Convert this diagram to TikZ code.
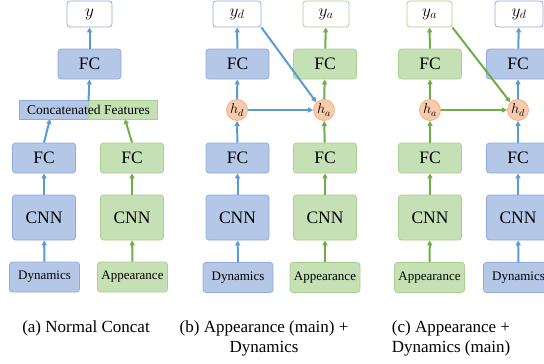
\documentclass[tikz,border=0pt]{standalone}
\usepackage{fontspec}
\setmainfont{Liberation Serif}
\usetikzlibrary{arrows.meta}

\definecolor{fillblue}{HTML}{B4C7E7}
\definecolor{lineblue}{HTML}{8FAADC}
\definecolor{arrblue}{HTML}{5B9BD5}
\definecolor{fillgreen}{HTML}{C5E0B4}
\definecolor{linegreen}{HTML}{A9D18E}
\definecolor{arrgreen}{HTML}{70AD47}
\definecolor{fillorange}{HTML}{F8CBAD}
\definecolor{lineorange}{HTML}{F4B183}

\tikzset{
  box/.style={rounded corners=3pt, line width=0.8pt, inner sep=0pt},
  bluebox/.style={box, draw=lineblue, fill=fillblue},
  greenbox/.style={box, draw=linegreen, fill=fillgreen},
  fcbox/.style={minimum width=63pt, minimum height=30pt, font=\fontsize{17.5}{19}\selectfont},
  cnnbox/.style={minimum width=63pt, minimum height=45pt, font=\fontsize{17.5}{19}\selectfont},
  inbox/.style={minimum width=70pt, minimum height=30pt, font=\fontsize{13}{14}\selectfont},
  outbox/.style={box, fill=white, minimum height=26pt, font=\fontsize{18}{19}\selectfont},
  hid/.style={circle, draw=lineorange, fill=fillorange, line width=0.8pt, minimum size=21pt, inner sep=0pt, font=\fontsize{14}{15}\selectfont},
  barr/.style={-{Triangle[length=5pt,width=5pt]}, arrblue, line width=2pt},
  garr/.style={-{Triangle[length=5pt,width=5pt]}, arrgreen, line width=2pt},
  captext/.style={align=center, font=\fontsize{17}{20}\selectfont}
}

\begin{document}
\begin{tikzpicture}[x=1pt,y=-1pt]

    % page frame
    \useasboundingbox (0,0) rectangle (544,364);
    \clip (0,0) rectangle (544,364);

    % (a) normal concat
    \node[outbox, draw=lineblue, minimum width=45pt] (ya) at (89.5,14) {$y$};
    \node[bluebox, fcbox] (fca) at (89.5,64) {FC};
    \node[minimum width=137pt, minimum height=18pt, inner sep=0pt] (cat) at (88.5,110) {};
    \draw[line width=0.8pt, draw=lineblue, fill=fillblue] (cat.south west) rectangle (cat.north);
    \draw[line width=0.8pt, draw=linegreen, fill=fillgreen] (cat.south) rectangle (cat.north east);
    \node[font=\fontsize{13.5}{14}\selectfont] (cattext) at (cat) {Concatenated Features};
    \coordinate (catd) at (50,119);
    \coordinate (catap) at (125,119);

    \node[bluebox, fcbox] (fcda) at (44,158) {FC};
    \node[greenbox, fcbox] (fcaa) at (132,158) {FC};
    \node[bluebox, cnnbox] (cnnda) at (44,217.5) {CNN};
    \node[greenbox, cnnbox] (cnnaa) at (132,217.5) {CNN};
    \node[bluebox, inbox] (dyna) at (44.5,277) {Dynamics};
    \node[greenbox, inbox] (appa) at (132.5,277) {Appearance};

    \draw[barr] (dyna) -- (cnnda);
    \draw[barr] (cnnda) -- (fcda);
    \draw[barr] (fcda.north) -- (catd);
    \draw[garr] (appa) -- (cnnaa);
    \draw[garr] (cnnaa) -- (fcaa);
    \draw[garr] (fcaa.north) -- (catap);
    \draw[barr] (cat.north) -- (fca.south);
    \draw[barr] (fca) -- (ya);

    % (b) appearance (main) + dynamics
    \node[outbox, draw=lineblue, minimum width=48pt] (ydb) at (237,14) {$y_d$};
    \node[outbox, draw=linegreen, minimum width=46pt] (yab) at (326,14) {$y_a$};
    \node[bluebox, fcbox] (fctdb) at (237.5,64) {FC};
    \node[greenbox, fcbox] (fctab) at (325,64) {FC};
    \node[hid] (hdb) at (237,110) {$h_d$};
    \node[hid] (hab) at (324,110) {$h_a$};
    \node[bluebox, fcbox] (fcdb) at (237.5,158) {FC};
    \node[greenbox, fcbox] (fcab) at (325,158) {FC};
    \node[bluebox, cnnbox] (cnndb) at (237.5,217.5) {CNN};
    \node[greenbox, cnnbox] (cnnab) at (325,217.5) {CNN};
    \node[bluebox, inbox] (dynb) at (238,277.5) {Dynamics};
    \node[greenbox, inbox] (appb) at (325,277.5) {Appearance};

    \draw[barr] (dynb) -- (cnndb);
    \draw[barr] (cnndb) -- (fcdb);
    \draw[barr] (fcdb) -- (hdb);
    \draw[barr] (hdb) -- (fctdb);
    \draw[barr] (fctdb) -- (ydb);
    \draw[garr] (appb) -- (cnnab);
    \draw[garr] (cnnab) -- (fcab);
    \draw[garr] (fcab) -- (hab);
    \draw[garr] (hab) -- (fctab);
    \draw[garr] (fctab) -- (yab);
    \draw[barr] (hdb) -- (hab);
    \draw[barr] (ydb.south east) -- (hab.north west);

    % (c) appearance + dynamics (main)
    \node[outbox, draw=linegreen, minimum width=45pt] (yac) at (429.5,14) {$y_a$};
    \node[outbox, draw=lineblue, minimum width=48pt] (ydc) at (519,14) {$y_d$};
    \node[greenbox, fcbox] (fctac) at (430,64) {FC};
    \node[bluebox, fcbox] (fctdc) at (518,64) {FC};
    \node[hid] (hac) at (430,110) {$h_a$};
    \node[hid] (hdc) at (518,110) {$h_d$};
    \node[greenbox, fcbox] (fcac) at (430,158) {FC};
    \node[bluebox, fcbox] (fcdc) at (518,158) {FC};
    \node[greenbox, cnnbox] (cnnac) at (430,217.5) {CNN};
    \node[bluebox, cnnbox] (cnndc) at (518,217.5) {CNN};
    \node[greenbox, inbox] (appc) at (429.5,277.5) {Appearance};
    \node[bluebox, inbox] (dync) at (518.5,277.5) {Dynamics};

    \draw[garr] (appc) -- (cnnac);
    \draw[garr] (cnnac) -- (fcac);
    \draw[garr] (fcac) -- (hac);
    \draw[garr] (hac) -- (fctac);
    \draw[garr] (fctac) -- (yac);
    \draw[barr] (dync) -- (cnndc);
    \draw[barr] (cnndc) -- (fcdc);
    \draw[barr] (fcdc) -- (hdc);
    \draw[barr] (hdc) -- (fctdc);
    \draw[barr] (fctdc) -- (ydc);
    \draw[garr] (hac) -- (hdc);
    \draw[garr] (yac.south east) -- (hdc.north west);

    % captions
    \node[captext] (capa) at (86,328) {(a) Normal Concat};
    \node[captext, anchor=north] (capb) at (264,317) {(b) Appearance (main) +\\Dynamics};
    \node[captext, anchor=north] (capc) at (451,317) {(c) Appearance +\\Dynamics (main)};
\end{tikzpicture}
\end{document}
